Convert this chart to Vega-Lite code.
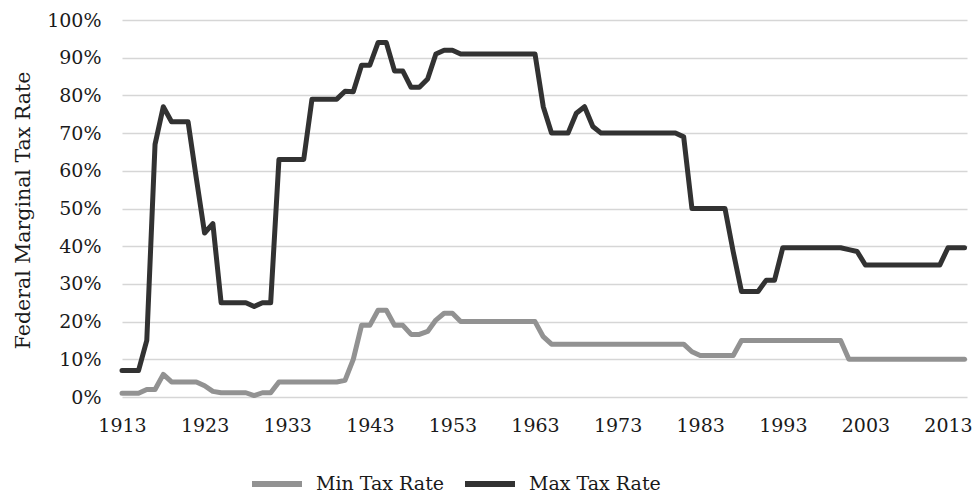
{
  "$schema": "https://vega.github.io/schema/vega-lite/v6.json",
  "autosize": "none",
  "width": 845,
  "height": 377,
  "padding": {"left": 122, "top": 20, "right": 7, "bottom": 99},
  "background": "white",
  "data": {"values": [
    {"year":1913,"series":"Max Tax Rate","rate":0.07},{"year":1914,"series":"Max Tax Rate","rate":0.07},{"year":1915,"series":"Max Tax Rate","rate":0.07},{"year":1916,"series":"Max Tax Rate","rate":0.15},{"year":1917,"series":"Max Tax Rate","rate":0.67},{"year":1918,"series":"Max Tax Rate","rate":0.77},{"year":1919,"series":"Max Tax Rate","rate":0.73},{"year":1920,"series":"Max Tax Rate","rate":0.73},{"year":1921,"series":"Max Tax Rate","rate":0.73},{"year":1922,"series":"Max Tax Rate","rate":0.58},{"year":1923,"series":"Max Tax Rate","rate":0.435},{"year":1924,"series":"Max Tax Rate","rate":0.46},{"year":1925,"series":"Max Tax Rate","rate":0.25},{"year":1926,"series":"Max Tax Rate","rate":0.25},{"year":1927,"series":"Max Tax Rate","rate":0.25},{"year":1928,"series":"Max Tax Rate","rate":0.25},{"year":1929,"series":"Max Tax Rate","rate":0.24},{"year":1930,"series":"Max Tax Rate","rate":0.25},{"year":1931,"series":"Max Tax Rate","rate":0.25},{"year":1932,"series":"Max Tax Rate","rate":0.63},{"year":1933,"series":"Max Tax Rate","rate":0.63},{"year":1934,"series":"Max Tax Rate","rate":0.63},{"year":1935,"series":"Max Tax Rate","rate":0.63},{"year":1936,"series":"Max Tax Rate","rate":0.79},{"year":1937,"series":"Max Tax Rate","rate":0.79},{"year":1938,"series":"Max Tax Rate","rate":0.79},{"year":1939,"series":"Max Tax Rate","rate":0.79},{"year":1940,"series":"Max Tax Rate","rate":0.811},{"year":1941,"series":"Max Tax Rate","rate":0.81},{"year":1942,"series":"Max Tax Rate","rate":0.88},{"year":1943,"series":"Max Tax Rate","rate":0.88},{"year":1944,"series":"Max Tax Rate","rate":0.94},{"year":1945,"series":"Max Tax Rate","rate":0.94},{"year":1946,"series":"Max Tax Rate","rate":0.8645},{"year":1947,"series":"Max Tax Rate","rate":0.8645},{"year":1948,"series":"Max Tax Rate","rate":0.8213},{"year":1949,"series":"Max Tax Rate","rate":0.8213},{"year":1950,"series":"Max Tax Rate","rate":0.8436},{"year":1951,"series":"Max Tax Rate","rate":0.91},{"year":1952,"series":"Max Tax Rate","rate":0.92},{"year":1953,"series":"Max Tax Rate","rate":0.92},{"year":1954,"series":"Max Tax Rate","rate":0.91},{"year":1955,"series":"Max Tax Rate","rate":0.91},{"year":1956,"series":"Max Tax Rate","rate":0.91},{"year":1957,"series":"Max Tax Rate","rate":0.91},{"year":1958,"series":"Max Tax Rate","rate":0.91},{"year":1959,"series":"Max Tax Rate","rate":0.91},{"year":1960,"series":"Max Tax Rate","rate":0.91},{"year":1961,"series":"Max Tax Rate","rate":0.91},{"year":1962,"series":"Max Tax Rate","rate":0.91},{"year":1963,"series":"Max Tax Rate","rate":0.91},{"year":1964,"series":"Max Tax Rate","rate":0.77},{"year":1965,"series":"Max Tax Rate","rate":0.70},{"year":1966,"series":"Max Tax Rate","rate":0.70},{"year":1967,"series":"Max Tax Rate","rate":0.70},{"year":1968,"series":"Max Tax Rate","rate":0.7525},{"year":1969,"series":"Max Tax Rate","rate":0.77},{"year":1970,"series":"Max Tax Rate","rate":0.7175},{"year":1971,"series":"Max Tax Rate","rate":0.70},{"year":1972,"series":"Max Tax Rate","rate":0.70},{"year":1973,"series":"Max Tax Rate","rate":0.70},{"year":1974,"series":"Max Tax Rate","rate":0.70},{"year":1975,"series":"Max Tax Rate","rate":0.70},{"year":1976,"series":"Max Tax Rate","rate":0.70},{"year":1977,"series":"Max Tax Rate","rate":0.70},{"year":1978,"series":"Max Tax Rate","rate":0.70},{"year":1979,"series":"Max Tax Rate","rate":0.70},{"year":1980,"series":"Max Tax Rate","rate":0.70},{"year":1981,"series":"Max Tax Rate","rate":0.69},{"year":1982,"series":"Max Tax Rate","rate":0.50},{"year":1983,"series":"Max Tax Rate","rate":0.50},{"year":1984,"series":"Max Tax Rate","rate":0.50},{"year":1985,"series":"Max Tax Rate","rate":0.50},{"year":1986,"series":"Max Tax Rate","rate":0.50},{"year":1987,"series":"Max Tax Rate","rate":0.385},{"year":1988,"series":"Max Tax Rate","rate":0.28},{"year":1989,"series":"Max Tax Rate","rate":0.28},{"year":1990,"series":"Max Tax Rate","rate":0.28},{"year":1991,"series":"Max Tax Rate","rate":0.31},{"year":1992,"series":"Max Tax Rate","rate":0.31},{"year":1993,"series":"Max Tax Rate","rate":0.396},{"year":1994,"series":"Max Tax Rate","rate":0.396},{"year":1995,"series":"Max Tax Rate","rate":0.396},{"year":1996,"series":"Max Tax Rate","rate":0.396},{"year":1997,"series":"Max Tax Rate","rate":0.396},{"year":1998,"series":"Max Tax Rate","rate":0.396},{"year":1999,"series":"Max Tax Rate","rate":0.396},{"year":2000,"series":"Max Tax Rate","rate":0.396},{"year":2001,"series":"Max Tax Rate","rate":0.391},{"year":2002,"series":"Max Tax Rate","rate":0.386},{"year":2003,"series":"Max Tax Rate","rate":0.35},{"year":2004,"series":"Max Tax Rate","rate":0.35},{"year":2005,"series":"Max Tax Rate","rate":0.35},{"year":2006,"series":"Max Tax Rate","rate":0.35},{"year":2007,"series":"Max Tax Rate","rate":0.35},{"year":2008,"series":"Max Tax Rate","rate":0.35},{"year":2009,"series":"Max Tax Rate","rate":0.35},{"year":2010,"series":"Max Tax Rate","rate":0.35},{"year":2011,"series":"Max Tax Rate","rate":0.35},{"year":2012,"series":"Max Tax Rate","rate":0.35},{"year":2013,"series":"Max Tax Rate","rate":0.396},{"year":2014,"series":"Max Tax Rate","rate":0.396},{"year":2015,"series":"Max Tax Rate","rate":0.396},
    {"year":1913,"series":"Min Tax Rate","rate":0.01},{"year":1914,"series":"Min Tax Rate","rate":0.01},{"year":1915,"series":"Min Tax Rate","rate":0.01},{"year":1916,"series":"Min Tax Rate","rate":0.02},{"year":1917,"series":"Min Tax Rate","rate":0.02},{"year":1918,"series":"Min Tax Rate","rate":0.06},{"year":1919,"series":"Min Tax Rate","rate":0.04},{"year":1920,"series":"Min Tax Rate","rate":0.04},{"year":1921,"series":"Min Tax Rate","rate":0.04},{"year":1922,"series":"Min Tax Rate","rate":0.04},{"year":1923,"series":"Min Tax Rate","rate":0.03},{"year":1924,"series":"Min Tax Rate","rate":0.015},{"year":1925,"series":"Min Tax Rate","rate":0.01125},{"year":1926,"series":"Min Tax Rate","rate":0.01125},{"year":1927,"series":"Min Tax Rate","rate":0.01125},{"year":1928,"series":"Min Tax Rate","rate":0.01125},{"year":1929,"series":"Min Tax Rate","rate":0.00375},{"year":1930,"series":"Min Tax Rate","rate":0.01125},{"year":1931,"series":"Min Tax Rate","rate":0.01125},{"year":1932,"series":"Min Tax Rate","rate":0.04},{"year":1933,"series":"Min Tax Rate","rate":0.04},{"year":1934,"series":"Min Tax Rate","rate":0.04},{"year":1935,"series":"Min Tax Rate","rate":0.04},{"year":1936,"series":"Min Tax Rate","rate":0.04},{"year":1937,"series":"Min Tax Rate","rate":0.04},{"year":1938,"series":"Min Tax Rate","rate":0.04},{"year":1939,"series":"Min Tax Rate","rate":0.04},{"year":1940,"series":"Min Tax Rate","rate":0.044},{"year":1941,"series":"Min Tax Rate","rate":0.10},{"year":1942,"series":"Min Tax Rate","rate":0.19},{"year":1943,"series":"Min Tax Rate","rate":0.19},{"year":1944,"series":"Min Tax Rate","rate":0.23},{"year":1945,"series":"Min Tax Rate","rate":0.23},{"year":1946,"series":"Min Tax Rate","rate":0.19},{"year":1947,"series":"Min Tax Rate","rate":0.19},{"year":1948,"series":"Min Tax Rate","rate":0.166},{"year":1949,"series":"Min Tax Rate","rate":0.166},{"year":1950,"series":"Min Tax Rate","rate":0.174},{"year":1951,"series":"Min Tax Rate","rate":0.204},{"year":1952,"series":"Min Tax Rate","rate":0.222},{"year":1953,"series":"Min Tax Rate","rate":0.222},{"year":1954,"series":"Min Tax Rate","rate":0.20},{"year":1955,"series":"Min Tax Rate","rate":0.20},{"year":1956,"series":"Min Tax Rate","rate":0.20},{"year":1957,"series":"Min Tax Rate","rate":0.20},{"year":1958,"series":"Min Tax Rate","rate":0.20},{"year":1959,"series":"Min Tax Rate","rate":0.20},{"year":1960,"series":"Min Tax Rate","rate":0.20},{"year":1961,"series":"Min Tax Rate","rate":0.20},{"year":1962,"series":"Min Tax Rate","rate":0.20},{"year":1963,"series":"Min Tax Rate","rate":0.20},{"year":1964,"series":"Min Tax Rate","rate":0.16},{"year":1965,"series":"Min Tax Rate","rate":0.14},{"year":1966,"series":"Min Tax Rate","rate":0.14},{"year":1967,"series":"Min Tax Rate","rate":0.14},{"year":1968,"series":"Min Tax Rate","rate":0.14},{"year":1969,"series":"Min Tax Rate","rate":0.14},{"year":1970,"series":"Min Tax Rate","rate":0.14},{"year":1971,"series":"Min Tax Rate","rate":0.14},{"year":1972,"series":"Min Tax Rate","rate":0.14},{"year":1973,"series":"Min Tax Rate","rate":0.14},{"year":1974,"series":"Min Tax Rate","rate":0.14},{"year":1975,"series":"Min Tax Rate","rate":0.14},{"year":1976,"series":"Min Tax Rate","rate":0.14},{"year":1977,"series":"Min Tax Rate","rate":0.14},{"year":1978,"series":"Min Tax Rate","rate":0.14},{"year":1979,"series":"Min Tax Rate","rate":0.14},{"year":1980,"series":"Min Tax Rate","rate":0.14},{"year":1981,"series":"Min Tax Rate","rate":0.14},{"year":1982,"series":"Min Tax Rate","rate":0.12},{"year":1983,"series":"Min Tax Rate","rate":0.11},{"year":1984,"series":"Min Tax Rate","rate":0.11},{"year":1985,"series":"Min Tax Rate","rate":0.11},{"year":1986,"series":"Min Tax Rate","rate":0.11},{"year":1987,"series":"Min Tax Rate","rate":0.11},{"year":1988,"series":"Min Tax Rate","rate":0.15},{"year":1989,"series":"Min Tax Rate","rate":0.15},{"year":1990,"series":"Min Tax Rate","rate":0.15},{"year":1991,"series":"Min Tax Rate","rate":0.15},{"year":1992,"series":"Min Tax Rate","rate":0.15},{"year":1993,"series":"Min Tax Rate","rate":0.15},{"year":1994,"series":"Min Tax Rate","rate":0.15},{"year":1995,"series":"Min Tax Rate","rate":0.15},{"year":1996,"series":"Min Tax Rate","rate":0.15},{"year":1997,"series":"Min Tax Rate","rate":0.15},{"year":1998,"series":"Min Tax Rate","rate":0.15},{"year":1999,"series":"Min Tax Rate","rate":0.15},{"year":2000,"series":"Min Tax Rate","rate":0.15},{"year":2001,"series":"Min Tax Rate","rate":0.10},{"year":2002,"series":"Min Tax Rate","rate":0.10},{"year":2003,"series":"Min Tax Rate","rate":0.10},{"year":2004,"series":"Min Tax Rate","rate":0.10},{"year":2005,"series":"Min Tax Rate","rate":0.10},{"year":2006,"series":"Min Tax Rate","rate":0.10},{"year":2007,"series":"Min Tax Rate","rate":0.10},{"year":2008,"series":"Min Tax Rate","rate":0.10},{"year":2009,"series":"Min Tax Rate","rate":0.10},{"year":2010,"series":"Min Tax Rate","rate":0.10},{"year":2011,"series":"Min Tax Rate","rate":0.10},{"year":2012,"series":"Min Tax Rate","rate":0.10},{"year":2013,"series":"Min Tax Rate","rate":0.10},{"year":2014,"series":"Min Tax Rate","rate":0.10},{"year":2015,"series":"Min Tax Rate","rate":0.10}
  ]},
  "config": {
    "view": {"stroke": null},
    "font": "DejaVu Serif"
  },
  "mark": {"type": "line", "strokeWidth": 5, "strokeCap": "round", "strokeJoin": "round"},
  "encoding": {
    "x": {
      "field": "year", "type": "quantitative",
      "scale": {"domain": [1913, 2015.3], "nice": false, "zero": false},
      "axis": {
        "title": null, "values": [1913,1923,1933,1943,1953,1963,1973,1983,1993,2003,2013],
        "format": "d", "grid": false, "ticks": false, "domain": false,
        "labelFont": "DejaVu Serif", "labelFontSize": 19, "labelColor": "#1a1a1a",
        "labelPadding": 19, "labelBaseline": "top", "labelFlush": false, "labelOverlap": false
      }
    },
    "y": {
      "field": "rate", "type": "quantitative",
      "scale": {"domain": [0, 1], "nice": false},
      "axis": {
        "title": "Federal Marginal Tax Rate", "values": [0,0.1,0.2,0.3,0.4,0.5,0.6,0.7,0.8,0.9,1],
        "format": ".0%", "grid": true, "gridColor": "#d6d6d6", "gridWidth": 1.5,
        "ticks": false, "domain": false,
        "labelFont": "DejaVu Serif", "labelFontSize": 19, "labelColor": "#1a1a1a",
        "labelPadding": 21,
        "titleFont": "DejaVu Serif", "titleFontSize": 20.5, "titleFontWeight": "normal",
        "titleColor": "#1a1a1a", "titleX": -99, "titleY": 190, "titleAngle": -90,
        "titleAlign": "center", "titleBaseline": "middle"
      }
    },
    "color": {
      "field": "series", "type": "nominal",
      "scale": {"domain": ["Min Tax Rate", "Max Tax Rate"], "range": ["#929292", "#323232"]},
      "legend": {
        "title": null, "orient": "none", "direction": "horizontal",
        "legendX": 127, "legendY": 436,
        "symbolType": "stroke", "symbolSize": 2500, "symbolStrokeWidth": 6,
        "labelFont": "DejaVu Serif", "labelFontSize": 19, "labelColor": "#1a1a1a",
        "labelOffset": 11, "columnPadding": 8
      }
    }
  }
}
